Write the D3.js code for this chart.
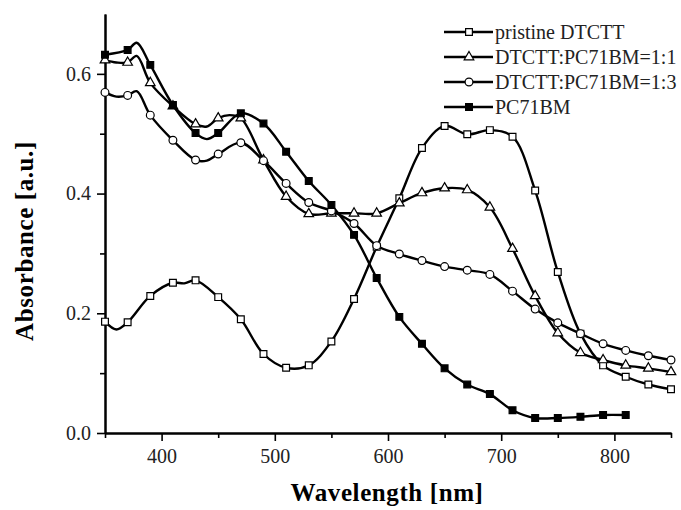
<!DOCTYPE html>
<html>
<head>
<meta charset="utf-8">
<script src="https://cdn.jsdelivr.net/npm/d3@7"></script>
<style>
  body { margin: 0; background: #fff; }
  svg { display: block; font-family: "Liberation Serif", "Times New Roman", serif; }
</style>
</head>
<body>
<svg width="681" height="510"></svg>
<script>
// Wavelength / absorbance readings (markers sit on the 350, 370, ... points)
const pristine = [
  [350, 0.186], [360, 0.173], [370, 0.185], [390, 0.229], [410, 0.251], [420, 0.250],
  [430, 0.255], [450, 0.227], [470, 0.190], [490, 0.132], [510, 0.109], [530, 0.113],
  [550, 0.153], [570, 0.224], [590, 0.311], [610, 0.392], [630, 0.476], [650, 0.513],
  [670, 0.499], [690, 0.506], [710, 0.495], [730, 0.405], [750, 0.269], [770, 0.166],
  [790, 0.113], [810, 0.094], [830, 0.081], [850, 0.073]
];
const blend11 = [
  [350, 0.623], [360, 0.619], [370, 0.619], [378, 0.630], [390, 0.585], [410, 0.546],
  [430, 0.516], [440, 0.512], [450, 0.526], [460, 0.531], [470, 0.526], [490, 0.456],
  [510, 0.395], [530, 0.366], [550, 0.367], [570, 0.367], [590, 0.367], [610, 0.384],
  [630, 0.401], [650, 0.409], [670, 0.406], [690, 0.377], [710, 0.308], [730, 0.229],
  [750, 0.167], [770, 0.134], [790, 0.122], [810, 0.113], [830, 0.108], [850, 0.102]
];
const blend13 = [
  [350, 0.569], [360, 0.562], [370, 0.564], [378, 0.571], [390, 0.531], [410, 0.489],
  [430, 0.456], [440, 0.455], [450, 0.466], [470, 0.485], [490, 0.455], [510, 0.417],
  [530, 0.385], [550, 0.371], [570, 0.350], [590, 0.313], [610, 0.299], [630, 0.288],
  [650, 0.278], [670, 0.272], [690, 0.265], [710, 0.237], [730, 0.207], [750, 0.184],
  [770, 0.166], [790, 0.149], [810, 0.138], [830, 0.129], [850, 0.122]
];
const pc71bm = [
  [350, 0.632], [370, 0.640], [378, 0.652], [390, 0.615], [410, 0.548], [430, 0.501],
  [440, 0.491], [450, 0.501], [470, 0.534], [490, 0.517], [510, 0.470], [530, 0.421],
  [550, 0.381], [570, 0.331], [590, 0.259], [610, 0.194], [630, 0.149], [650, 0.108],
  [670, 0.081], [690, 0.065], [710, 0.038], [730, 0.025], [750, 0.025], [770, 0.027],
  [790, 0.030], [810, 0.030]
];

const seriesNames = ["pristine DTCTT", "DTCTT:PC71BM=1:1", "DTCTT:PC71BM=1:3", "PC71BM"];
const seriesData = [pristine, blend11, blend13, pc71bm];
const seriesMarks = ["square", "triangle", "circle", "filled"];

const xMajor = [400, 500, 600, 700, 800];
const xMinor = [350, 450, 550, 650, 750, 850];
const yMajor = [0.0, 0.2, 0.4, 0.6];
const yMinor = [0.1, 0.3, 0.5];

const svg = d3.select("svg");
const margin = { top: 14, left: 105 };
const innerWidth = 566;
const innerHeight = 419;

const g = svg.append("g")
    .attr("transform", `translate(${margin.left}, ${margin.top})`);

const x = d3.scaleLinear().domain([350, 850]).range([0, innerWidth]);
const y = d3.scaleLinear().domain([0, 0.7]).range([innerHeight, 0]);

// axes (minor ticks first, their empty labels removed)
const xAxisG = g.append("g").attr("transform", `translate(0,${innerHeight})`);
xAxisG.call(d3.axisBottom(x).tickValues(xMinor).tickSize(5).tickSizeOuter(0));
xAxisG.selectAll(".tick text").remove();
xAxisG.append("g").call(d3.axisBottom(x).tickValues(xMajor).tickSize(8).tickPadding(8).tickSizeOuter(0));

const yAxisG = g.append("g");
yAxisG.call(d3.axisLeft(y).tickValues(yMinor).tickSize(5).tickSizeOuter(0));
yAxisG.selectAll(".tick text").remove();
yAxisG.append("g").call(d3.axisLeft(y).tickValues(yMajor).tickFormat(d3.format(".1f"))
    .tickSize(8).tickPadding(6).tickSizeOuter(0));

svg.selectAll(".domain").attr("stroke", "#000").attr("stroke-width", 2);
svg.selectAll(".tick line").attr("stroke", "#000").attr("stroke-width", 1.6);
svg.selectAll(".tick text")
    .attr("font-family", "Liberation Serif, Times New Roman, serif")
    .attr("font-size", 20).attr("fill", "#222");

// axis titles
svg.append("text")
    .attr("x", 387).attr("y", 501)
    .attr("text-anchor", "middle")
    .attr("font-size", 25).attr("font-weight", "bold")
    .attr("letter-spacing", 0.6)
    .text("Wavelength [nm]");

svg.append("text")
    .attr("transform", "translate(33,241) rotate(-90)")
    .attr("text-anchor", "middle")
    .attr("font-size", 25).attr("font-weight", "bold")
    .attr("letter-spacing", 0.6)
    .text("Absorbance [a.u.]");

// lines + markers
const line = d3.line()
    .x(d => x(d[0]))
    .y(d => y(d[1]))
    .curve(d3.curveCatmullRom.alpha(0.5));

function drawMarker(sel, kind) {
    if (kind === "circle") {
        sel.append("circle").attr("r", 3.9)
            .attr("fill", "#fff").attr("stroke", "#000").attr("stroke-width", 1.2);
    } else if (kind === "triangle") {
        sel.append("path").attr("d", d3.symbol(d3.symbolTriangle, 40)())
            .attr("fill", "#fff").attr("stroke", "#000").attr("stroke-width", 1.2);
    } else {
        sel.append("path").attr("d", d3.symbol(d3.symbolSquare, 46)())
            .attr("fill", kind === "filled" ? "#000" : "#fff")
            .attr("stroke", "#000").attr("stroke-width", 1.2);
    }
}

seriesData.forEach((data, i) => {
    g.append("path")
        .datum(data)
        .attr("fill", "none")
        .attr("stroke", "#000")
        .attr("stroke-width", 2.4)
        .attr("d", line);
});

seriesData.forEach((data, i) => {
    g.selectAll(null)
        .data(data.filter(d => d[0] % 20 === 10))
        .enter().append("g")
        .attr("transform", d => `translate(${x(d[0])},${y(d[1])})`)
        .each(function () { drawMarker(d3.select(this), seriesMarks[i]); });
});

// legend
const legend = svg.append("g").attr("transform", "translate(444,32)");
seriesNames.forEach((name, i) => {
    const row = legend.append("g").attr("transform", `translate(0,${i * 25})`);
    row.append("line").attr("x1", 0).attr("x2", 49).attr("y1", 0).attr("y2", 0)
        .attr("stroke", "#000").attr("stroke-width", 2.4);
    drawMarker(row.append("g").attr("transform", "translate(25,0)"), seriesMarks[i]);
    row.append("text").attr("x", 51).attr("y", 7)
        .attr("font-size", 20).attr("fill", "#222")
        .text(name);
});
</script>
</body>
</html>
